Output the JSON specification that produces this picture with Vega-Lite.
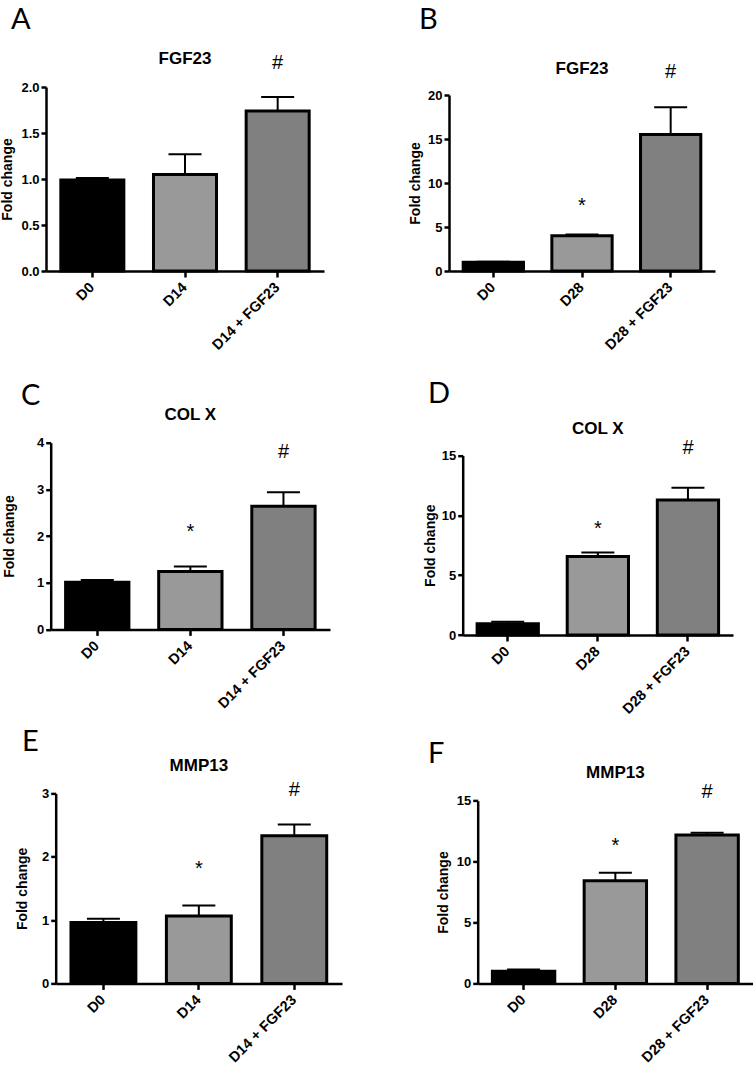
{
  "$schema": "https://vega.github.io/schema/vega-lite/v6.json",
  "background": "white",
  "padding": {"left": 0, "top": 6, "right": 0, "bottom": 0},
  "autosize": {"type": "pad"},
  "columns": 2,
  "spacing": {"row": 157.7, "column": 107},
  "bounds": "flush",
  "align": "each",
  "resolve": {"scale": {"color": "independent"}},
  "datasets": {
    "A": [
      {"group": "D0", "mean": 0.99, "hi": 1.01, "sig": ""},
      {"group": "D14", "mean": 1.05, "hi": 1.27, "sig": ""},
      {"group": "D14 + FGF23", "mean": 1.74, "hi": 1.89, "sig": "#"}
    ],
    "B": [
      {"group": "D0", "mean": 1.0, "hi": 1.05, "sig": ""},
      {"group": "D28", "mean": 4.0, "hi": 4.15, "sig": "*"},
      {"group": "D28 + FGF23", "mean": 15.5, "hi": 18.6, "sig": "#"}
    ],
    "C": [
      {"group": "D0", "mean": 1.01, "hi": 1.06, "sig": ""},
      {"group": "D14", "mean": 1.24, "hi": 1.35, "sig": "*"},
      {"group": "D14 + FGF23", "mean": 2.64, "hi": 2.94, "sig": "#"}
    ],
    "D": [
      {"group": "D0", "mean": 0.95, "hi": 1.1, "sig": ""},
      {"group": "D28", "mean": 6.55, "hi": 6.9, "sig": "*"},
      {"group": "D28 + FGF23", "mean": 11.28, "hi": 12.3, "sig": "#"}
    ],
    "E": [
      {"group": "D0", "mean": 0.96, "hi": 1.02, "sig": ""},
      {"group": "D14", "mean": 1.065, "hi": 1.23, "sig": "*"},
      {"group": "D14 + FGF23", "mean": 2.33, "hi": 2.51, "sig": "#"}
    ],
    "F": [
      {"group": "D0", "mean": 1.0, "hi": 1.14, "sig": ""},
      {"group": "D28", "mean": 8.42, "hi": 9.08, "sig": "*"},
      {"group": "D28 + FGF23", "mean": 12.18, "hi": 12.37, "sig": "#"}
    ]
  },
  "concat": [
    {
      "width": 278, "height": 184,
      "title": {"text": "A", "anchor": "start", "frame": "group", "dx": -35, "offset": -7.7, "baseline": "alphabetic"},
      "data": {"name": "A"},
      "encoding": {"x": {"field": "group", "type": "nominal", "sort": null,
        "scale": {"domain": ["D0", "D14", "D14 + FGF23"], "range": [0, 278], "paddingInner": 0.32, "paddingOuter": 0.16},
        "axis": {"title": null}}},
      "layer": [
        {"mark": {"type": "bar", "stroke": "black", "strokeWidth": 3},
         "encoding": {
           "y": {"field": "mean", "type": "quantitative", "scale": {"domain": [0, 2], "nice": false, "range": [184, 0]},
                 "axis": {"title": "Fold change", "values": [0, 0.5, 1, 1.5, 2], "format": ".1f", "titlePadding": 6}},
           "color": {"field": "group", "type": "nominal", "scale": {"domain": ["D0", "D14", "D14 + FGF23"], "range": ["#000000", "#999999", "#808080"]}, "legend": null}}},
        {"mark": {"type": "rule", "strokeWidth": 2, "color": "black"},
         "encoding": {"y": {"field": "mean", "type": "quantitative"}, "y2": {"field": "hi"}}},
        {"mark": {"type": "tick", "size": 33, "thickness": 2, "color": "black", "opacity": 1},
         "encoding": {"y": {"field": "hi", "type": "quantitative"}}},
        {"transform": [{"filter": "datum.sig === '#'"}],
         "mark": {"type": "text", "baseline": "alphabetic", "dy": -28, "fontSize": 20, "color": "black"},
         "encoding": {"y": {"field": "hi", "type": "quantitative"}, "text": {"field": "sig"}}},
        {"data": {"values": [{"gene": "FGF23"}]},
         "mark": {"type": "text", "baseline": "alphabetic", "fontSize": 17, "fontWeight": "bold", "color": "black"},
         "encoding": {"x": {"datum": "D14"}, "y": {"datum": 2.246}, "text": {"field": "gene"}}}
      ]
    },
    {
      "width": 266, "height": 184,
      "title": {"text": "B", "anchor": "start", "frame": "group", "dx": -30, "offset": 1.3, "baseline": "alphabetic"},
      "data": {"name": "B"},
      "encoding": {"x": {"field": "group", "type": "nominal", "sort": null,
        "scale": {"domain": ["D0", "D28", "D28 + FGF23"], "range": [0, 266], "paddingInner": 0.32, "paddingOuter": 0.16},
        "axis": {"title": null}}},
      "layer": [
        {"mark": {"type": "bar", "stroke": "black", "strokeWidth": 3},
         "encoding": {
           "y": {"field": "mean", "type": "quantitative", "scale": {"domain": [0, 20], "nice": false, "range": [184, 8]},
                 "axis": {"title": "Fold change", "values": [0, 5, 10, 15, 20], "format": "d", "titlePadding": 5}},
           "color": {"field": "group", "type": "nominal", "scale": {"domain": ["D0", "D28", "D28 + FGF23"], "range": ["#000000", "#999999", "#808080"]}, "legend": null}}},
        {"mark": {"type": "rule", "strokeWidth": 2, "color": "black"},
         "encoding": {"y": {"field": "mean", "type": "quantitative"}, "y2": {"field": "hi"}}},
        {"mark": {"type": "tick", "size": 33, "thickness": 2, "color": "black", "opacity": 1},
         "encoding": {"y": {"field": "hi", "type": "quantitative"}}},
        {"transform": [{"filter": "datum.sig === '#'"}],
         "mark": {"type": "text", "baseline": "alphabetic", "dy": -29, "fontSize": 20, "color": "black"},
         "encoding": {"y": {"field": "hi", "type": "quantitative"}, "text": {"field": "sig"}}},
        {"transform": [{"filter": "datum.sig === '*'"}],
         "mark": {"type": "text", "baseline": "alphabetic", "dy": -22, "fontSize": 20, "color": "black"},
         "encoding": {"y": {"field": "hi", "type": "quantitative"}, "text": {"field": "sig"}}},
        {"data": {"values": [{"gene": "FGF23"}]},
         "mark": {"type": "text", "baseline": "alphabetic", "fontSize": 17, "fontWeight": "bold", "color": "black"},
         "encoding": {"x": {"datum": "D28"}, "y": {"datum": 22.42}, "text": {"field": "gene"}}}
      ]
    },
    {
      "width": 284, "height": 200.7,
      "title": {"text": "C", "anchor": "start", "frame": "group", "dx": -25, "offset": -28, "baseline": "alphabetic"},
      "data": {"name": "C"},
      "encoding": {"x": {"field": "group", "type": "nominal", "sort": null,
        "scale": {"domain": ["D0", "D14", "D14 + FGF23"], "range": [4.7, 284], "paddingInner": 0.32, "paddingOuter": 0.16},
        "axis": {"title": null}}},
      "layer": [
        {"mark": {"type": "bar", "stroke": "black", "strokeWidth": 3},
         "encoding": {
           "y": {"field": "mean", "type": "quantitative", "scale": {"domain": [0, 4], "nice": false, "range": [200.7, 14]},
                 "axis": {"title": "Fold change", "values": [0, 1, 2, 3, 4], "format": "d", "titlePadding": 20, "offset": -4.7}},
           "color": {"field": "group", "type": "nominal", "scale": {"domain": ["D0", "D14", "D14 + FGF23"], "range": ["#000000", "#999999", "#808080"]}, "legend": null}}},
        {"mark": {"type": "rule", "strokeWidth": 2, "color": "black"},
         "encoding": {"y": {"field": "mean", "type": "quantitative"}, "y2": {"field": "hi"}}},
        {"mark": {"type": "tick", "size": 33, "thickness": 2, "color": "black", "opacity": 1},
         "encoding": {"y": {"field": "hi", "type": "quantitative"}}},
        {"transform": [{"filter": "datum.sig === '#'"}],
         "mark": {"type": "text", "baseline": "alphabetic", "dy": -34, "fontSize": 20, "color": "black"},
         "encoding": {"y": {"field": "hi", "type": "quantitative"}, "text": {"field": "sig"}}},
        {"transform": [{"filter": "datum.sig === '*'"}],
         "mark": {"type": "text", "baseline": "alphabetic", "dy": -28, "fontSize": 20, "color": "black"},
         "encoding": {"y": {"field": "hi", "type": "quantitative"}, "text": {"field": "sig"}}},
        {"data": {"values": [{"gene": "COL X"}]},
         "mark": {"type": "text", "baseline": "alphabetic", "fontSize": 17, "fontWeight": "bold", "color": "black"},
         "encoding": {"x": {"datum": "D14"}, "y": {"datum": 4.48}, "text": {"field": "gene"}}}
      ]
    },
    {
      "width": 284, "height": 206.3,
      "title": {"text": "D", "anchor": "start", "frame": "group", "dx": -21, "offset": -12, "baseline": "alphabetic"},
      "data": {"name": "D"},
      "encoding": {"x": {"field": "group", "type": "nominal", "sort": null,
        "scale": {"domain": ["D0", "D28", "D28 + FGF23"], "range": [13.7, 284], "paddingInner": 0.32, "paddingOuter": 0.16},
        "axis": {"title": null}}},
      "layer": [
        {"mark": {"type": "bar", "stroke": "black", "strokeWidth": 3},
         "encoding": {
           "y": {"field": "mean", "type": "quantitative", "scale": {"domain": [0, 15], "nice": false, "range": [206.3, 26.7]},
                 "axis": {"title": "Fold change", "values": [0, 5, 10, 15], "format": "d", "titlePadding": 4, "offset": -13.7}},
           "color": {"field": "group", "type": "nominal", "scale": {"domain": ["D0", "D28", "D28 + FGF23"], "range": ["#000000", "#999999", "#808080"]}, "legend": null}}},
        {"mark": {"type": "rule", "strokeWidth": 2, "color": "black"},
         "encoding": {"y": {"field": "mean", "type": "quantitative"}, "y2": {"field": "hi"}}},
        {"mark": {"type": "tick", "size": 33, "thickness": 2, "color": "black", "opacity": 1},
         "encoding": {"y": {"field": "hi", "type": "quantitative"}}},
        {"transform": [{"filter": "datum.sig === '#'"}],
         "mark": {"type": "text", "baseline": "alphabetic", "dy": -34, "fontSize": 20, "color": "black"},
         "encoding": {"y": {"field": "hi", "type": "quantitative"}, "text": {"field": "sig"}}},
        {"transform": [{"filter": "datum.sig === '*'"}],
         "mark": {"type": "text", "baseline": "alphabetic", "dy": -17, "fontSize": 20, "color": "black"},
         "encoding": {"y": {"field": "hi", "type": "quantitative"}, "text": {"field": "sig"}}},
        {"data": {"values": [{"gene": "COL X"}]},
         "mark": {"type": "text", "baseline": "alphabetic", "fontSize": 17, "fontWeight": "bold", "color": "black"},
         "encoding": {"x": {"datum": "D28"}, "y": {"datum": 16.82}, "text": {"field": "gene"}}}
      ]
    },
    {
      "width": 296, "height": 190,
      "title": {"text": "E", "anchor": "start", "frame": "group", "dx": -24, "offset": -23, "baseline": "alphabetic"},
      "data": {"name": "E"},
      "encoding": {"x": {"field": "group", "type": "nominal", "sort": null,
        "scale": {"domain": ["D0", "D14", "D14 + FGF23"], "range": [9.7, 296], "paddingInner": 0.32, "paddingOuter": 0.16},
        "axis": {"title": null}}},
      "layer": [
        {"mark": {"type": "bar", "stroke": "black", "strokeWidth": 3},
         "encoding": {
           "y": {"field": "mean", "type": "quantitative", "scale": {"domain": [0, 3], "nice": false, "range": [190, 0]},
                 "axis": {"title": "Fold change", "values": [0, 1, 2, 3], "format": "d", "titlePadding": 12, "offset": -9.7}},
           "color": {"field": "group", "type": "nominal", "scale": {"domain": ["D0", "D14", "D14 + FGF23"], "range": ["#000000", "#999999", "#808080"]}, "legend": null}}},
        {"mark": {"type": "rule", "strokeWidth": 2, "color": "black"},
         "encoding": {"y": {"field": "mean", "type": "quantitative"}, "y2": {"field": "hi"}}},
        {"mark": {"type": "tick", "size": 33, "thickness": 2, "color": "black", "opacity": 1},
         "encoding": {"y": {"field": "hi", "type": "quantitative"}}},
        {"transform": [{"filter": "datum.sig === '#'"}],
         "mark": {"type": "text", "baseline": "alphabetic", "dy": -28, "fontSize": 20, "color": "black"},
         "encoding": {"y": {"field": "hi", "type": "quantitative"}, "text": {"field": "sig"}}},
        {"transform": [{"filter": "datum.sig === '*'"}],
         "mark": {"type": "text", "baseline": "alphabetic", "dy": -31, "fontSize": 20, "color": "black"},
         "encoding": {"y": {"field": "hi", "type": "quantitative"}, "text": {"field": "sig"}}},
        {"data": {"values": [{"gene": "MMP13"}]},
         "mark": {"type": "text", "baseline": "alphabetic", "fontSize": 17, "fontWeight": "bold", "color": "black"},
         "encoding": {"x": {"datum": "D14"}, "y": {"datum": 3.35}, "text": {"field": "gene"}}}
      ]
    },
    {
      "width": 304, "height": 190,
      "title": {"text": "F", "anchor": "start", "frame": "group", "dx": -21, "offset": -27.7, "baseline": "alphabetic"},
      "data": {"name": "F"},
      "encoding": {"x": {"field": "group", "type": "nominal", "sort": null,
        "scale": {"domain": ["D0", "D28", "D28 + FGF23"], "range": [28.7, 304], "paddingInner": 0.32, "paddingOuter": 0.16},
        "axis": {"title": null}}},
      "layer": [
        {"mark": {"type": "bar", "stroke": "black", "strokeWidth": 3},
         "encoding": {
           "y": {"field": "mean", "type": "quantitative", "scale": {"domain": [0, 15], "nice": false, "range": [190, 7.3]},
                 "axis": {"title": "Fold change", "values": [0, 5, 10, 15], "format": "d", "titlePadding": 6, "offset": -28.7}},
           "color": {"field": "group", "type": "nominal", "scale": {"domain": ["D0", "D28", "D28 + FGF23"], "range": ["#000000", "#999999", "#808080"]}, "legend": null}}},
        {"mark": {"type": "rule", "strokeWidth": 2, "color": "black"},
         "encoding": {"y": {"field": "mean", "type": "quantitative"}, "y2": {"field": "hi"}}},
        {"mark": {"type": "tick", "size": 33, "thickness": 2, "color": "black", "opacity": 1},
         "encoding": {"y": {"field": "hi", "type": "quantitative"}}},
        {"transform": [{"filter": "datum.sig === '#'"}],
         "mark": {"type": "text", "baseline": "alphabetic", "dy": -35, "fontSize": 20, "color": "black"},
         "encoding": {"y": {"field": "hi", "type": "quantitative"}, "text": {"field": "sig"}}},
        {"transform": [{"filter": "datum.sig === '*'"}],
         "mark": {"type": "text", "baseline": "alphabetic", "dy": -21, "fontSize": 20, "color": "black"},
         "encoding": {"y": {"field": "hi", "type": "quantitative"}, "text": {"field": "sig"}}},
        {"data": {"values": [{"gene": "MMP13"}]},
         "mark": {"type": "text", "baseline": "alphabetic", "fontSize": 17, "fontWeight": "bold", "color": "black"},
         "encoding": {"x": {"datum": "D28"}, "y": {"datum": 16.83}, "text": {"field": "gene"}}}
      ]
    }
  ],
  "config": {
    "font": "Liberation Sans",
    "view": {"stroke": null},
    "title": {"font": "Lato", "fontSize": 29, "fontWeight": "normal", "color": "black"},
    "text": {"font": "Liberation Sans"},
    "axis": {
      "grid": false,
      "domainColor": "black", "domainWidth": 2.5,
      "tickColor": "black", "tickWidth": 2.5, "tickSize": 5,
      "labelColor": "black", "labelFont": "Liberation Sans", "labelFontSize": 13, "labelFontWeight": "bold", "labelPadding": 2,
      "titleColor": "black", "titleFont": "Liberation Sans", "titleFontSize": 14, "titleFontWeight": "bold"
    },
    "axisX": {"labelAngle": -45, "labelAlign": "right", "labelBaseline": "middle", "labelFontSize": 14.5, "labelPadding": 8, "tickSize": 6},
    "axisY": {"labelOverlap": false}
  }
}
